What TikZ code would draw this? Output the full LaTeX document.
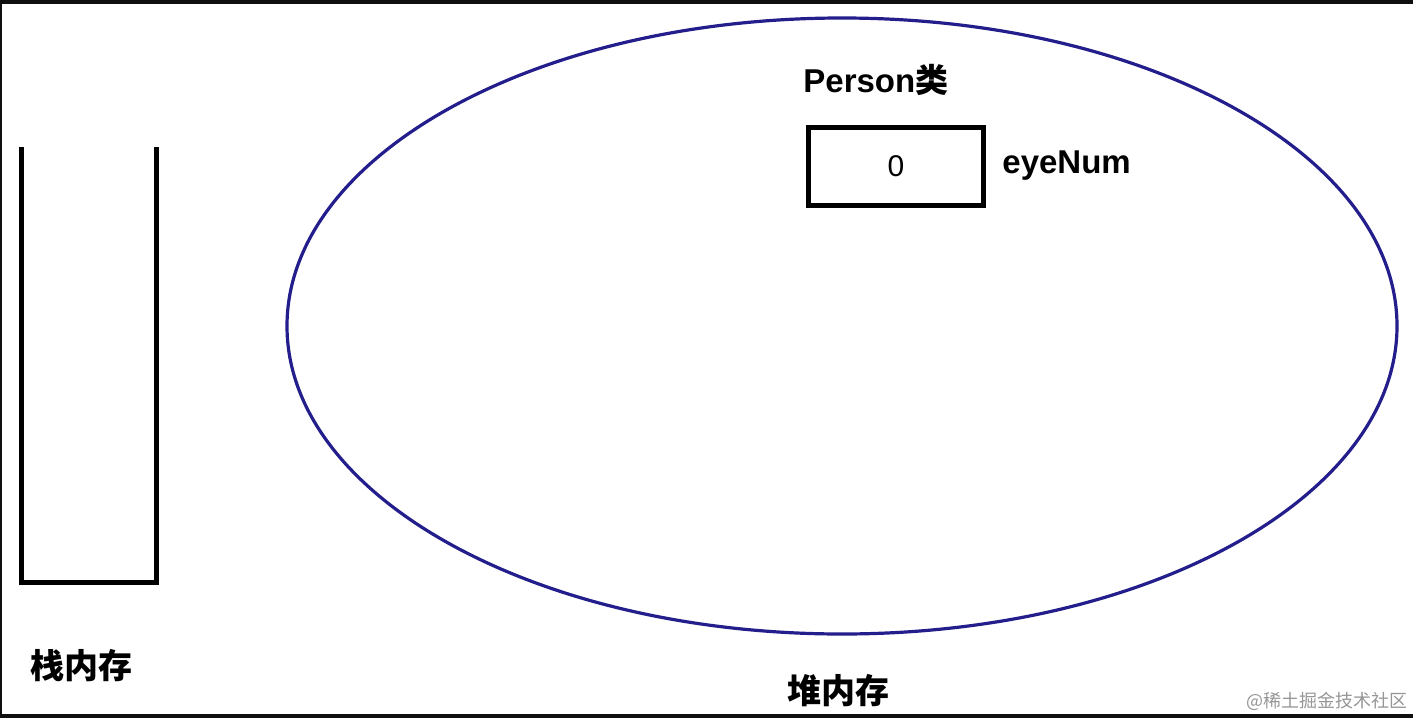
\documentclass[tikz,border=0pt]{standalone}
\usepackage{fontspec}
\setmainfont{Liberation Sans}
\newfontfamily\cjk{Noto Sans CJK SC}
\usetikzlibrary{positioning}
\definecolor{heapblue}{RGB}{35,30,140}
\definecolor{markgray}{RGB}{150,150,150}

\begin{document}
\begin{tikzpicture}[x=0.5pt, y=-0.5pt,
    lbl/.style={inner sep=0pt, font=\fontsize{16.5}{18}\selectfont\bfseries},
    memlbl/.style={inner sep=0pt, font=\fontsize{17}{19}\selectfont\cjk\bfseries}]
  \useasboundingbox (0,0) rectangle (1413,718);
  \fill[white] (0,0) rectangle (1413,718);
  % frame
  \fill[black!94] (0,0) rectangle (1413,4);
  \fill[black!94] (0,714) rectangle (1413,718);
  \fill[black!94] (0,0) rectangle (1.5,718);

  % stack
  \draw[line width=2.5pt, black]
        (21,147) -- (21,582) -- (156,582) -- (156,147);
  \node[memlbl] (stack) at (82,666) {栈内存};

  % heap
  \draw[line width=1.6pt, heapblue] (842,326) ellipse [x radius=555, y radius=308];
  \node[memlbl] (heap) at (838,691) {堆内存};

  % object in heap
  \node[draw, line width=2.5pt, minimum width=87.5pt, minimum height=39pt,
        font=\fontsize{15}{17}\selectfont] (eyebox) at (896,166) {0};
  \node[lbl, right=8pt of eyebox] (eyenum) {eyeNum};
  \node[lbl, anchor=west] (person) at (803,80) {Person{\cjk 类}};

  \node[inner sep=0pt, text=markgray, font=\fontsize{9}{10}\selectfont\cjk]
        (mark) at (1327,701) {@稀土掘金技术社区};
\end{tikzpicture}
\end{document}
